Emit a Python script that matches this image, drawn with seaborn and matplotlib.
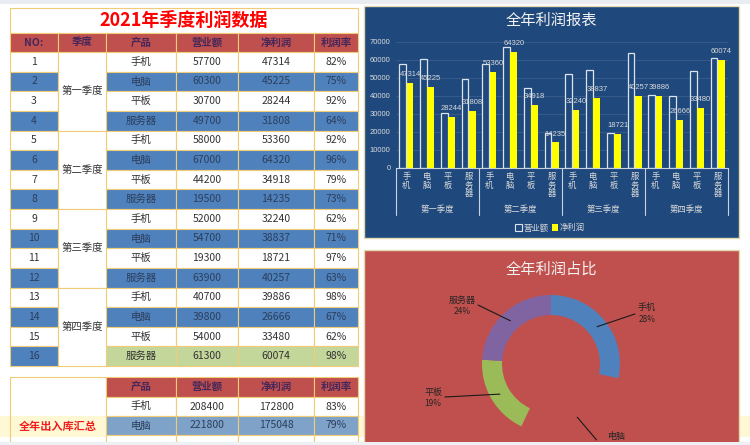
import numpy as np
import pandas as pd
import matplotlib
matplotlib.use('Agg')
import matplotlib.pyplot as plt
import matplotlib.transforms as mtransforms
from matplotlib.patches import Rectangle, Patch
import seaborn as sns

sns.set_theme(style='white')
plt.rcParams['font.family'] = ['Noto Sans CJK SC', 'DejaVu Sans']

# ---------------- data ----------------
table_title = '2021年季度利润数据'
headers = ['NO:', '季度', '产品', '营业额', '净利润', '利润率']
quarters = ['第一季度', '第二季度', '第三季度', '第四季度']
products = ['手机', '电脑', '平板', '服务器']
revenue = [57700, 60300, 30700, 49700,
           58000, 67000, 44200, 19500,
           52000, 54700, 19300, 63900,
           40700, 39800, 54000, 61300]
profit = [47314, 45225, 28244, 31808,
          53360, 64320, 34918, 14235,
          32240, 38837, 18721, 40257,
          39886, 26666, 33480, 60074]
profit_rate = ['82%', '75%', '92%', '64%',
               '92%', '96%', '79%', '73%',
               '62%', '71%', '97%', '63%',
               '98%', '67%', '62%', '98%']

summary_title = '全年出入库汇总'
summary_headers = ['产品', '营业额', '净利润', '利润率']
summary_products = ['手机', '电脑']
summary_revenue = [208400, 221800]
summary_profit = [172800, 175048]
summary_rate = ['83%', '79%']

bar_title = '全年利润报表'
series_names = ['营业额', '净利润']
y_ticks = [0, 10000, 20000, 30000, 40000, 50000, 60000, 70000]

pie_title = '全年利润占比'
pie_labels = ['手机', '电脑', '平板', '服务器']
pie_values = [172800, 175048, 115363, 146374]

# ---------------- styles ----------------
RED_HDR = '#C0504D'
BLUE_ROW = '#4F81BD'
GREEN_ROW = '#C4D79B'
SUM_BLUE = '#7EA2C8'
GRID = '#F0CC78'
TXT = '#333333'
TXT_BLUE = '#2B3F5C'
HDR_TXT = '#45275A'
NAVY = '#1F497D'
LIGHT = '#D9D9D9'

fig = plt.figure(figsize=(7.5, 4.45), dpi=100)
fig.patch.set_facecolor('white')
bg = fig.add_axes([0, 0, 1, 1], zorder=0)
bg.set_xlim(0, 750)
bg.set_ylim(445, 0)
bg.axis('off')

# excel decorations
bg.add_patch(Rectangle((0, 0), 750, 4, fc='#E9ECF0', ec='none'))
bg.add_patch(Rectangle((0, 416), 750, 21, fc='#FFF8D4', ec='none'))


def cell(x0, x1, y0, y1, fc, text='', color=TXT, fs=7.5, weight='normal'):
    bg.add_patch(Rectangle((x0, y0), x1 - x0, y1 - y0, fc=fc, ec=GRID, lw=0.8))
    if text != '':
        bg.text((x0 + x1) / 2, (y0 + y1) / 2, text, ha='center', va='center',
                color=color, fontsize=fs, fontweight=weight)


col_x = [10, 58, 106, 176, 238, 314, 358]
row_h = (366 - 52) / 16

# title
cell(10, 358, 8, 33, 'white')
bg.text(184, 20.5, table_title, ha='center', va='center', color='#FF0000',
        fontsize=13, fontweight='bold')
# header
for j, h in enumerate(headers):
    cell(col_x[j], col_x[j + 1], 33, 52, RED_HDR, h, HDR_TXT, 7.5, 'bold')
# rows
for i in range(16):
    y0 = 52 + i * row_h
    y1 = y0 + row_h
    blue = (i % 2 == 1)
    tc = TXT_BLUE if blue else TXT
    cell(col_x[0], col_x[1], y0, y1, BLUE_ROW if blue else 'white', str(i + 1), tc)
    fc = GREEN_ROW if i == 15 else (BLUE_ROW if blue else 'white')
    tc2 = TXT if i == 15 else tc
    vals = [products[i % 4], str(revenue[i]), str(profit[i]), profit_rate[i]]
    for k, v in enumerate(vals):
        cell(col_x[k + 2], col_x[k + 3], y0, y1, fc, v, tc2)
for q, name in enumerate(quarters):
    y0 = 52 + q * 4 * row_h
    cell(col_x[1], col_x[2], y0, y0 + 4 * row_h, 'white', name, TXT)

# summary table
sy = [377, 397, 416, 435, 447]
cell(col_x[0], col_x[2], 377, 447, 'none')
for k, h in enumerate(summary_headers):
    cell(col_x[k + 2], col_x[k + 3], sy[0], sy[1], RED_HDR, h, HDR_TXT, 7.5, 'bold')
for r in range(len(summary_products)):
    fc = 'white' if r == 0 else SUM_BLUE
    tc = TXT if r == 0 else TXT_BLUE
    vals = [summary_products[r], str(summary_revenue[r]), str(summary_profit[r]), summary_rate[r]]
    for k, v in enumerate(vals):
        cell(col_x[k + 2], col_x[k + 3], sy[r + 1], sy[r + 2], fc, v, tc)
for k in range(4):
    cell(col_x[k + 2], col_x[k + 3], sy[3], sy[4], 'white')
bg.text(58, 426, summary_title, ha='center', va='center', color='#F01E1E',
        fontsize=8, fontweight='bold')

# ---------------- bar chart panel ----------------
bg.add_patch(Rectangle((364, 6), 375, 232, fc=NAVY, ec='#E3DAAE', lw=1))
bg.text(551, 20, bar_title, ha='center', va='center', color='#F2F2F2', fontsize=11)

axb = fig.add_axes([396 / 750, (445 - 168) / 445, 332 / 750, 126 / 445], zorder=2)
axb.set_facecolor(NAVY)
n = len(revenue)
df = pd.DataFrame({
    'idx': list(range(n)) * 2,
    'value': revenue + profit,
    'series': [series_names[0]] * n + [series_names[1]] * n,
})
sns.barplot(data=df, x='idx', y='value', hue='series', hue_order=series_names,
            palette={series_names[0]: NAVY, series_names[1]: '#FFFF00'},
            width=0.72, gap=0.1, saturation=1, legend=False, ax=axb)
for p in axb.containers[0]:
    p.set_facecolor(NAVY)
    p.set_edgecolor('#DCE3EC')
    p.set_linewidth(0.9)
for p in axb.containers[1]:
    p.set_linewidth(0)
axb.bar_label(axb.containers[1], labels=[str(v) for v in profit], padding=3.5,
              fontsize=5.5, color=LIGHT, family='Liberation Sans')

axb.set_ylim(0, 70000)
axb.set_xlim(-0.5, n - 0.5)
axb.set_yticks(y_ticks)
axb.set_yticklabels([str(v) for v in y_ticks], fontsize=5.5, color=LIGHT,
                    family='Liberation Sans')
axb.set_xticks(range(n))
axb.set_xticklabels(['\n'.join(products[i % 4]) for i in range(n)],
                    fontsize=6, color=LIGHT, linespacing=0.95)
axb.tick_params(axis='both', length=0)
axb.tick_params(axis='y', pad=4)
axb.tick_params(axis='x', pad=3)
axb.set_xlabel('')
axb.set_ylabel('')
axb.yaxis.grid(True, color='#3A5E8C', lw=0.6)
axb.set_axisbelow(True)
for s in ['top', 'right', 'left']:
    axb.spines[s].set_visible(False)
axb.spines['bottom'].set_color('#C8D2DE')
axb.spines['bottom'].set_linewidth(0.8)

trans = mtransforms.blended_transform_factory(axb.transData, axb.transAxes)
for b in [-0.5, 3.5, 7.5, 11.5, 15.5]:
    axb.plot([b, b], [0, -0.373], transform=trans, color='#C8D2DE', lw=0.8,
             clip_on=False)
for g, name in enumerate(quarters):
    axb.text(g * 4 + 1.5, -0.325, name, transform=trans, ha='center', va='center',
             fontsize=6, color=LIGHT)
handles = [Patch(fc=NAVY, ec='#DCE3EC', lw=0.8), Patch(fc='#FFFF00', ec='none')]
axb.legend(handles, series_names, loc='center', bbox_to_anchor=(0.464, -0.476),
           ncol=2, frameon=False, fontsize=6, handlelength=0.8, handleheight=0.8,
           handletextpad=0.2, columnspacing=0.4, labelcolor=LIGHT)

# ---------------- donut panel ----------------
bg.add_patch(Rectangle((364, 250), 375, 195, fc=RED_HDR, ec='#E3DAAE', lw=1))
bg.text(551, 269, pie_title, ha='center', va='center', color='#F2F2F2', fontsize=11)

cx, cy, R = 551, 364, 69
axp = fig.add_axes([(cx - R) / 750, (445 - cy - R) / 445, 2 * R / 750, 2 * R / 445], zorder=2)
pie_colors = ['#4F81BD', RED_HDR, '#9BBB59', '#8064A2']
wedges, _ = axp.pie(pie_values, colors=pie_colors, startangle=90, counterclock=False,
                    wedgeprops=dict(width=0.29, edgecolor='none'))
axp.set_xlim(-1, 1)
axp.set_ylim(-1, 1)
axp.set_aspect('equal')
axp.axis('off')

total = sum(pie_values)
name_pos = [(1.391, 0.812), (0.957, -1.05), (-1.71, -0.406), (-1.29, 0.928)]
leader_out = [(1.217, 0.725), (0.66, -1.1), (-1.536, -0.478), (-1.058, 0.855)]
for w, lab, v, npos, lo in zip(wedges, pie_labels, pie_values, name_pos, leader_out):
    ang = np.deg2rad((w.theta1 + w.theta2) / 2)
    sx, sy_ = 0.86 * np.cos(ang), 0.86 * np.sin(ang)
    axp.plot([sx, lo[0]], [sy_, lo[1]], color='#1A1A1A', lw=0.8, clip_on=False)
    axp.text(npos[0], npos[1], lab, ha='center', va='center', fontsize=6.5,
             color='#262626', clip_on=False)
    py = npos[1] - 0.17
    if py > -1.1:  # percent lines below the visible sheet area are not shown
        axp.text(npos[0], py, f'{round(v / total * 100)}%', ha='center',
                 va='center', fontsize=6, color='#262626', clip_on=False)

# bottom excel strip
fig.add_artist(Rectangle((0, 0), 1, 3 / 445, transform=fig.transFigure,
                         fc='#EEF0F3', ec='none', zorder=10))

fig.savefig('out.png', dpi=100)
